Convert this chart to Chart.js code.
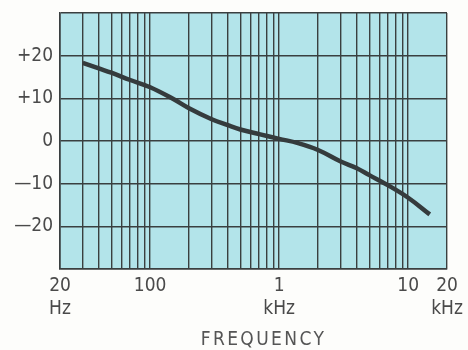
<!DOCTYPE html>
<html>
<head>
<meta charset="utf-8">
<script src="https://cdn.jsdelivr.net/npm/chart.js@4/dist/chart.umd.min.js"></script>
<style>
html,body{margin:0;padding:0;background:#fdfdfb;}
#wrap{width:468px;height:350px;position:relative;}
</style>
</head>
<body>
<div id="wrap"><canvas id="c" width="468" height="350"></canvas></div>
<script>
// Frequency (Hz) and response (dB)
const freqs = [30, 40, 50, 70, 100, 150, 200, 300, 400, 500, 700, 1000, 1400, 2000, 3000, 4000, 5000, 7000, 10000, 14700];
const levels = [18.3, 17.0, 16.0, 14.3, 12.6, 9.9, 7.7, 5.1, 3.7, 2.7, 1.6, 0.5, -0.5, -2.1, -4.8, -6.4, -8.0, -10.4, -13.3, -17.2];

// Grid positions on the log frequency axis
const xGrid = [20,30,40,50,60,70,80,90,100,200,300,400,500,600,700,800,900,1000,2000,3000,4000,5000,6000,7000,8000,9000,10000,20000];
const xLabels = {20: ['20','Hz'], 100: '100', 1000: ['1','kHz'], 10000: '10', 20000: ['20','kHz']};
const xTitle = 'FREQUENCY';

const yGrid = [-30,-20,-10,0,10,20,30];
const yLabels = {'-20':'—20','-10':'—10','0':'0','10':'+10','20':'+20'};

const FONT = '"DejaVu Sans Condensed", "DejaVu Sans", sans-serif';

const bgPlugin = {
  id: 'bg',
  beforeDraw(chart) {
    const {ctx, chartArea: a} = chart;
    ctx.save();
    ctx.fillStyle = '#b3e4ea';
    ctx.fillRect(a.left, a.top, a.right - a.left, a.bottom - a.top);
    ctx.restore();
  },
  afterDraw(chart) {
    const {ctx, chartArea: a} = chart;
    ctx.save();
    ctx.fillStyle = '#555';
    ctx.font = '19px ' + FONT;
    if ('letterSpacing' in ctx) ctx.letterSpacing = '2.4px';
    ctx.textAlign = 'center';
    ctx.textBaseline = 'middle';
    ctx.fillText(xTitle, (a.left + a.right) / 2 + 10, 340);
    ctx.restore();
  }
};

new Chart(document.getElementById('c'), {
  type: 'line',
  data: {
    datasets: [{
      data: freqs.map((f, i) => ({x: f, y: levels[i]})),
      borderColor: '#353b3d',
      borderWidth: 4.5,
      pointRadius: 0,
      tension: 0.4,
      fill: false
    }]
  },
  options: {
    responsive: false,
    animation: false,
    layout: {padding: {top: 13, right: 21, left: 0, bottom: 0}},
    plugins: {legend: {display: false}, tooltip: {enabled: false}},
    scales: {
      x: {
        type: 'logarithmic',
        min: 20, max: 20000,
        afterBuildTicks(s) { s.ticks = xGrid.map(v => ({value: v})); },
        afterFit(s) { s.height = 81; s.paddingLeft = 0; s.paddingRight = 0; },
        grid: {color: '#3a3f40', lineWidth: 1.4, drawTicks: false},
        border: {color: '#3a3f40', width: 1.6},
        ticks: {
          autoSkip: false, maxRotation: 0, padding: 6,
          color: '#4a4a4a',
          font: {family: FONT, size: 19, lineHeight: 1.2},
          callback(v) { return xLabels[v] !== undefined ? xLabels[v] : ''; }
        }
      },
      y: {
        min: -30, max: 30,
        afterBuildTicks(s) { s.ticks = yGrid.map(v => ({value: v})); },
        afterFit(s) { s.width = 60; s.paddingTop = 0; s.paddingBottom = 0; },
        grid: {color: '#3a3f40', lineWidth: 1.4, drawTicks: false},
        border: {color: '#3a3f40', width: 1.6},
        ticks: {
          padding: 7, color: '#4a4a4a',
          font: {family: FONT, size: 19},
          callback(v) { return yLabels[String(v)] || ''; }
        }
      }
    }
  },
  plugins: [bgPlugin]
});
</script>
</body>
</html>
